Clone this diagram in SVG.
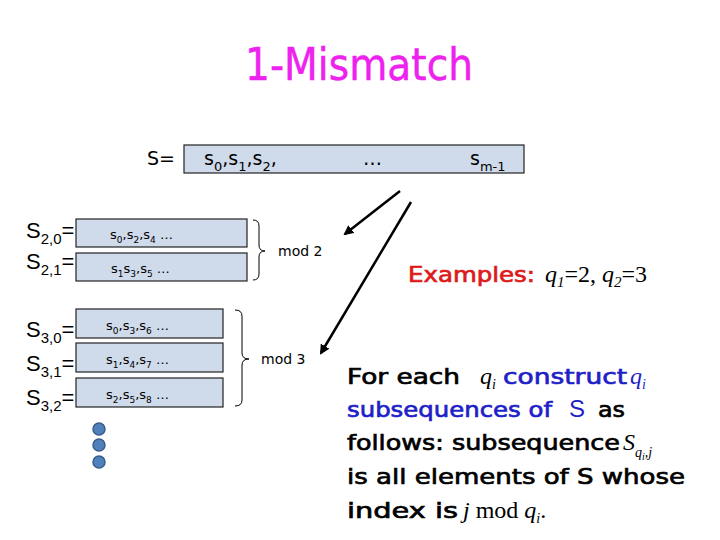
<svg xmlns="http://www.w3.org/2000/svg" width="720" height="540" viewBox="0 0 720 540">
<style>
.box{fill:#cfdaea;stroke:#222;stroke-width:1.2}
.lbl{font-family:"Liberation Sans","DejaVu Sans",sans-serif;font-size:22px;fill:#000}
.bt{font-family:"DejaVu Sans","Liberation Sans",sans-serif;font-size:13px;fill:#000}
.mt{font-family:"DejaVu Sans","Liberation Sans",sans-serif;font-size:19px;fill:#000}
.mod{font-family:"DejaVu Sans","Liberation Sans",sans-serif;font-size:14px;fill:#000}
.cs{font-family:"DejaVu Sans","Liberation Sans",sans-serif;font-size:22px;fill:#000;stroke:#000;stroke-width:0.7}
.math{font-family:"Liberation Serif","DejaVu Serif",serif;font-style:italic;font-size:24px}
.rm{font-family:"Liberation Serif","DejaVu Serif",serif;font-size:24px}
.cs.blue{fill:#1f1fc8;stroke:#1f1fc8}
.blue{fill:#1f1fc8}
.brace{fill:none;stroke:#000;stroke-width:1}
.arr{stroke:#000;stroke-width:2.5;fill:none;marker-end:url(#ah)}
.dot{fill:#4f81bd;stroke:#385d8a;stroke-width:1.5}
</style>
<defs>
<marker id="ah" viewBox="0 0 10 10" refX="8" refY="5" markerWidth="4" markerHeight="4" orient="auto" markerUnits="strokeWidth">
<path d="M0,0 L10,5 L0,10 z" fill="#000"/>
</marker>
</defs>
<rect width="720" height="540" fill="#fff"/>

<g id="title">
<text x="245" y="80" font-family="DejaVu Sans, sans-serif" font-size="44" fill="#ee22ee" stroke="#ee22ee" stroke-width="0.5" textLength="228" lengthAdjust="spacingAndGlyphs">1-Mismatch</text>
</g>

<g id="S">
<text x="147" y="165" class="mt">S=</text>
<rect class="box" x="184" y="145" width="340" height="28"/>
<text x="204" y="165" class="mt">s<tspan font-size="13" dy="6">0</tspan><tspan dy="-6">,s</tspan><tspan font-size="13" dy="6">1</tspan><tspan dy="-6">,s</tspan><tspan font-size="13" dy="6">2</tspan><tspan dy="-6">,</tspan></text>
<text x="363" y="165" class="mt">…</text>
<text x="470" y="165" class="mt">s<tspan font-size="13" dy="6">m-1</tspan></text>
</g>

<g id="S20">
<text x="26" y="238" class="lbl">S<tspan font-size="15" dy="6">2,0</tspan><tspan dy="-6">=</tspan></text>
<rect class="box" x="76" y="219" width="171" height="28"/>
<text x="110" y="239" class="bt">s<tspan font-size="9" dy="4">0</tspan><tspan dy="-4">,s</tspan><tspan font-size="9" dy="4">2</tspan><tspan dy="-4">,s</tspan><tspan font-size="9" dy="4">4</tspan><tspan dy="-4"> …</tspan></text>
</g>
<g id="S21">
<text x="26" y="269" class="lbl">S<tspan font-size="15" dy="6">2,1</tspan><tspan dy="-6">=</tspan></text>
<rect class="box" x="76" y="253" width="171" height="28"/>
<text x="111" y="273" class="bt">s<tspan font-size="9" dy="4">1</tspan><tspan dy="-4">s</tspan><tspan font-size="9" dy="4">3</tspan><tspan dy="-4">,s</tspan><tspan font-size="9" dy="4">5</tspan><tspan dy="-4"> …</tspan></text>
</g>

<g id="S30">
<text x="26" y="337" class="lbl">S<tspan font-size="15" dy="6">3,0</tspan><tspan dy="-6">=</tspan></text>
<rect class="box" x="76" y="309" width="147" height="29"/>
<text x="106" y="330" class="bt">s<tspan font-size="9" dy="4">0</tspan><tspan dy="-4">,s</tspan><tspan font-size="9" dy="4">3</tspan><tspan dy="-4">,s</tspan><tspan font-size="9" dy="4">6</tspan><tspan dy="-4"> …</tspan></text>
</g>
<g id="S31">
<text x="26" y="371" class="lbl">S<tspan font-size="15" dy="6">3,1</tspan><tspan dy="-6">=</tspan></text>
<rect class="box" x="76" y="343" width="147" height="29"/>
<text x="106" y="364" class="bt">s<tspan font-size="9" dy="4">1</tspan><tspan dy="-4">,s</tspan><tspan font-size="9" dy="4">4</tspan><tspan dy="-4">,s</tspan><tspan font-size="9" dy="4">7</tspan><tspan dy="-4"> …</tspan></text>
</g>
<g id="S32">
<text x="26" y="405" class="lbl">S<tspan font-size="15" dy="6">3,2</tspan><tspan dy="-6">=</tspan></text>
<rect class="box" x="76" y="378" width="147" height="29"/>
<text x="106" y="399" class="bt">s<tspan font-size="9" dy="4">2</tspan><tspan dy="-4">,s</tspan><tspan font-size="9" dy="4">5</tspan><tspan dy="-4">,s</tspan><tspan font-size="9" dy="4">8</tspan><tspan dy="-4"> …</tspan></text>
</g>

<g id="dots">
<circle class="dot" cx="99" cy="429" r="6"/>
<circle class="dot" cx="99" cy="445" r="6"/>
<circle class="dot" cx="99" cy="462" r="6"/>
</g>

<g id="mod2">
<path class="brace" d="M253,220 Q259,220 259,226 L259,245 Q259,251 265,251 Q259,251 259,257 L259,274 Q259,280 253,280"/>
<text x="278" y="256" class="mod">mod 2</text>
</g>
<g id="mod3">
<path class="brace" d="M235,310 Q242,310 242,316 L242,353 Q242,359 249,359 Q242,359 242,365 L242,400 Q242,406 235,406"/>
<text x="261" y="364" class="mod">mod 3</text>
</g>

<g id="connectors">
<line class="arr" x1="400" y1="191" x2="345" y2="234"/>
<line class="arr" x1="411" y1="202" x2="321" y2="353"/>
</g>

<g id="examples">
<text x="408" y="282" font-family="DejaVu Sans, sans-serif" font-size="21" fill="#dd1a1a" stroke="#dd1a1a" stroke-width="0.7" textLength="127" lengthAdjust="spacingAndGlyphs">Examples:</text>
<text x="545" y="282" class="math">q<tspan font-size="15" dy="5">1</tspan><tspan class="rm" dy="-5" style="font-style:normal">=2, </tspan>q<tspan font-size="15" dy="5">2</tspan><tspan class="rm" dy="-5" style="font-style:normal">=3</tspan></text>
</g>

<g id="description">
<text x="347" y="384" class="cs" textLength="113" lengthAdjust="spacingAndGlyphs">For each</text>
<text x="480" y="384" class="math">q<tspan font-size="14" dy="5">i</tspan></text>
<text x="503" y="384" class="cs blue" textLength="124" lengthAdjust="spacingAndGlyphs">construct</text>
<text x="630" y="384" class="math blue">q<tspan font-size="14" dy="5">i</tspan></text>

<text x="347" y="417" class="cs blue" textLength="205" lengthAdjust="spacingAndGlyphs">subsequences of</text>
<text x="569" y="417" font-family="Liberation Sans, sans-serif" font-size="24" class="blue">S</text>
<text x="598" y="417" class="cs" textLength="27" lengthAdjust="spacingAndGlyphs">as</text>

<text x="347" y="450" class="cs" textLength="273" lengthAdjust="spacingAndGlyphs">follows: subsequence</text>
<text x="623" y="450" class="math">S<tspan font-size="14" dy="7">q</tspan><tspan font-size="10" dy="3">i</tspan><tspan font-size="14" dy="-3">,j</tspan></text>

<text x="347" y="484" class="cs" textLength="338" lengthAdjust="spacingAndGlyphs">is all elements of S whose</text>

<text x="347" y="518" class="cs" textLength="111" lengthAdjust="spacingAndGlyphs">index is</text>
<text x="463" y="518" class="math">j <tspan class="rm" style="font-style:normal">mod</tspan> q<tspan font-size="14" dy="5">i</tspan><tspan dy="-5" style="font-style:normal">.</tspan></text>
</g>
</svg>
